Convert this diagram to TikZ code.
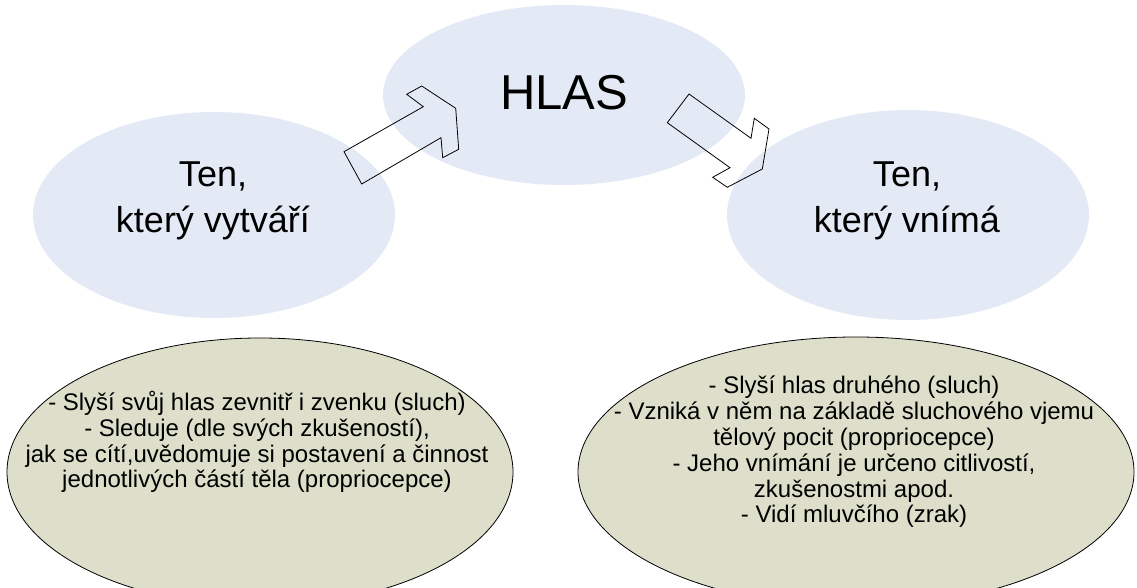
\documentclass[tikz,border=0pt]{standalone}
\usepackage{fontspec}
\setmainfont{Liberation Sans}
\usetikzlibrary{shapes.geometric}
\definecolor{topfill}{HTML}{E4EAF5}
\definecolor{botfill}{HTML}{DDDFCA}
\tikzset{
  topell/.style={ellipse, fill=topfill, draw=none, inner sep=0pt},
  botell/.style={ellipse, fill=botfill, draw=black, line width=0.8pt, inner sep=0pt},
  bigtxt/.style={align=center, inner sep=0pt, font=\fontsize{36}{46}\selectfont},
  hlastxt/.style={inner sep=0pt, font=\fontsize{49}{58}\selectfont},
  smalltxt/.style={align=center, inner sep=0pt, font=\fontsize{24}{25.8}\selectfont},
  blockarrow/.style={draw=black, line width=0.8pt, fill=none, line join=miter}
}
\begin{document}
\begin{tikzpicture}[x=1pt,y=-1pt]
\useasboundingbox (0,0) rectangle (1137,588);
\clip (0,0) rectangle (1137,588);
% top ellipses
\node[topell, minimum width=362, minimum height=206] (left) at (214,215) {};
\node[topell, minimum width=362, minimum height=180] (hlas) at (564,95) {};
\node[topell, minimum width=362, minimum height=210] (right) at (908,215) {};
\node[bigtxt] (lefttxt) at (213,201) {Ten,\\který vytváří};
\node[hlastxt] (hlastx) at (564,93) {HLAS};
\node[bigtxt] (righttxt) at (907,201) {Ten,\\který vnímá};
% block arrows
\draw[blockarrow] (361.7,184) -- (344,151.7) -- (423.3,106.7) -- (406.7,94.3) -- (421.7,86)
  -- (455.7,108.3) -- (458.7,149.3) -- (442.7,157.7) -- (441,137.7) -- cycle;
\draw[blockarrow] (689,94) -- (667.3,122.7) -- (730,167.7) -- (712.7,177.3) -- (727.3,187.3)
  -- (762.3,169) -- (769,129) -- (754.3,118.3) -- (751,138.3) -- cycle;
% bottom ellipses
\node[botell, minimum width=506, minimum height=268] (bl) at (260,472) {};
\node[botell, minimum width=556, minimum height=270] (br) at (856,472) {};
\node[smalltxt] (bltxt) at (257,442) {- Slyší svůj hlas zevnitř i zvenku (sluch)\\- Sleduje (dle svých zkušeností),\\jak se cítí,uvědomuje si postavení a činnost\\jednotlivých částí těla (propriocepce)};
\node[smalltxt] (brtxt) at (854,452) {- Slyší hlas druhého (sluch)\\- Vzniká v něm na základě sluchového vjemu\\tělový pocit (propriocepce)\\- Jeho vnímání je určeno citlivostí,\\zkušenostmi apod.\\- Vidí mluvčího (zrak)};
\end{tikzpicture}
\end{document}
